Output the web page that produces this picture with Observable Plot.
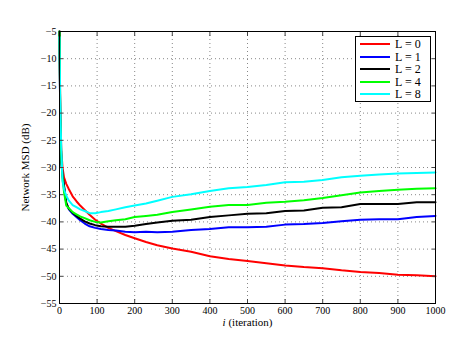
<!DOCTYPE html>
<html>
<head>
<meta charset="utf-8">
<script src="https://cdn.jsdelivr.net/npm/d3@7"></script>
<script src="https://cdn.jsdelivr.net/npm/@observablehq/plot@0.6"></script>
<style>
  html, body { margin: 0; padding: 0; background: #fff; }
  #wrap { position: relative; width: 463px; height: 343px; }
  #wrap svg, #wrap svg text { font-family: "Liberation Serif", "Times New Roman", serif !important; }
  #legend { position: absolute; left: 355px; top: 36px; width: 76px; height: 66px;
    border: 1px solid #000; background: #fff; box-sizing: border-box;
    font-family: "Liberation Serif", "Times New Roman", serif; font-size: 12px; line-height: 12px; }
  #legend .row { position: absolute; left: 4px; height: 12px; line-height: 12px; display: flex; align-items: center; white-space: nowrap; }
  #legend .sw { width: 30px; height: 2px; margin-right: 5px; flex: none; }
</style>
</head>
<body>
<div id="wrap"><div id="legend"></div></div>
<script>
const iterations = [0, 1, 2, 3, 5, 8, 12, 18, 25, 35, 45, 55, 67, 80, 95, 110, 130, 150, 175, 200, 230, 260, 300, 350, 400, 450, 500, 550, 600, 650, 700, 750, 800, 850, 900, 950, 1000];
const seriesNames = ["L = 0", "L = 1", "L = 2", "L = 4", "L = 8"];
const seriesColors = ["#ff0000", "#0000ff", "#000000", "#00ff00", "#00ffff"];
const msdL0 = [-5, -12, -19, -23, -27, -30, -31.8, -33.0, -34.0, -35.3, -36.2, -37.0, -37.8, -38.7, -39.6, -40.3, -41.1, -41.7, -42.4, -43.0, -43.7, -44.3, -44.9, -45.5, -46.3, -46.8, -47.2, -47.6, -48.0, -48.3, -48.5, -48.9, -49.2, -49.4, -49.7, -49.8, -50.0];
const msdL1 = [-5, -14, -21, -25, -29, -31.5, -33.6, -36.6, -37.7, -38.5, -39.1, -39.7, -40.3, -40.8, -41.1, -41.3, -41.5, -41.6, -41.8, -41.9, -41.8, -41.9, -41.8, -41.5, -41.3, -41.0, -41.0, -40.9, -40.5, -40.4, -40.2, -39.9, -39.6, -39.5, -39.5, -39.1, -38.9];
const msdL2 = [-5, -14, -21, -25, -29, -31.3, -33.3, -36.5, -37.6, -38.3, -38.9, -39.4, -39.9, -40.3, -40.6, -40.8, -40.9, -40.9, -40.9, -40.7, -40.4, -40.1, -39.8, -39.6, -39.1, -38.8, -38.5, -38.4, -38.0, -37.9, -37.4, -37.3, -36.7, -36.7, -36.7, -36.4, -36.4];
const msdL4 = [-5, -13, -20, -24, -28.5, -32, -34.5, -37.0, -37.5, -38.2, -38.6, -39.0, -39.3, -39.7, -40.0, -40.1, -39.9, -39.7, -39.5, -39.1, -38.9, -38.7, -38.2, -37.7, -37.2, -36.9, -36.9, -36.5, -36.3, -36.0, -35.6, -35.1, -34.6, -34.3, -34.1, -33.9, -33.8];
const msdL8 = [-6, -12, -18, -22, -27, -32.5, -34.0, -35.2, -36.1, -36.9, -37.3, -37.7, -38.0, -38.4, -38.4, -38.2, -38.0, -37.7, -37.3, -37.0, -36.6, -36.1, -35.4, -34.9, -34.3, -33.8, -33.6, -33.2, -32.7, -32.6, -32.3, -31.8, -31.5, -31.3, -31.1, -31.0, -30.9];
const xTicks = [0, 100, 200, 300, 400, 500, 600, 700, 800, 900, 1000];
const yTicks = [-55, -50, -45, -40, -35, -30, -25, -20, -15, -10, -5];

const allSeries = [msdL0, msdL1, msdL2, msdL4, msdL8];
const rows = [];
allSeries.forEach((vals, s) => vals.forEach((v, k) => rows.push({i: iterations[k], msd: v, L: seriesNames[s]})));

const font = "Liberation Serif";
const fmtX = d3.format("d");
const fmtY = (d) => d < 0 ? "\u2212" + Math.abs(d) : String(d);
const chart = Plot.plot({
  width: 463, height: 343,
  marginLeft: 59, marginRight: 28, marginTop: 31, marginBottom: 40,
  style: {fontFamily: font, fontSize: "10px", background: "#fff", color: "#000"},
  x: {domain: [0, 1000]},
  y: {domain: [-55, -5]},
  color: {domain: seriesNames, range: seriesColors},
  marks: [
    Plot.gridX(xTicks, {stroke: "#888", strokeOpacity: 1, strokeDasharray: "1,3"}),
    Plot.gridY(yTicks, {stroke: "#888", strokeOpacity: 1, strokeDasharray: "1,3"}),
    Plot.line(rows, {x: "i", y: "msd", z: "L", stroke: "L", strokeWidth: 2}),
    Plot.axisX(xTicks, {anchor: "bottom", tickSize: -4, tickPadding: 7, stroke: "#444", tickFormat: fmtX,
      label: "i (iteration)", labelAnchor: "center", labelOffset: 22, fontSize: 10}),
    Plot.axisX(xTicks, {anchor: "top", tickSize: -4, stroke: "#444", tickFormat: () => "", label: null}),
    Plot.axisY(yTicks, {anchor: "left", tickSize: -4, tickPadding: 7, stroke: "#444", tickFormat: fmtY,
      label: "Network MSD (dB)", labelAnchor: "center", labelOffset: 38, fontSize: 10}),
    Plot.axisY(yTicks, {anchor: "right", tickSize: -4, stroke: "#444", tickFormat: () => "", label: null}),
    Plot.frame({stroke: "#000", strokeWidth: 1})
  ]
});
document.getElementById("wrap").prepend(chart);
chart.setAttribute("font-family", font);

// Style the axis labels (italic i, MATLAB-like)
d3.select(chart).selectAll("text").attr("font-family", font).each(function() {
  const t = d3.select(this);
  const s = t.text();
  if (s.startsWith("i (iteration)")) {
    t.text(null).attr("font-size", 11);
    t.append("tspan").attr("font-style", "italic").text("i");
    t.append("tspan").text(" (iteration)");
  } else if (s.startsWith("Network MSD")) {
    t.text("Network MSD (dB)").attr("font-size", 11);
  }
});

// Legend
const legend = document.getElementById("legend");
seriesNames.forEach((name, k) => {
  const row = document.createElement("div");
  row.className = "row";
  row.style.top = (1 + k * 12.6) + "px";
  const sw = document.createElement("span");
  sw.className = "sw";
  sw.style.background = seriesColors[k];
  const tx = document.createElement("span");
  tx.textContent = name;
  row.append(sw, tx);
  legend.append(row);
});
</script>
</body>
</html>
